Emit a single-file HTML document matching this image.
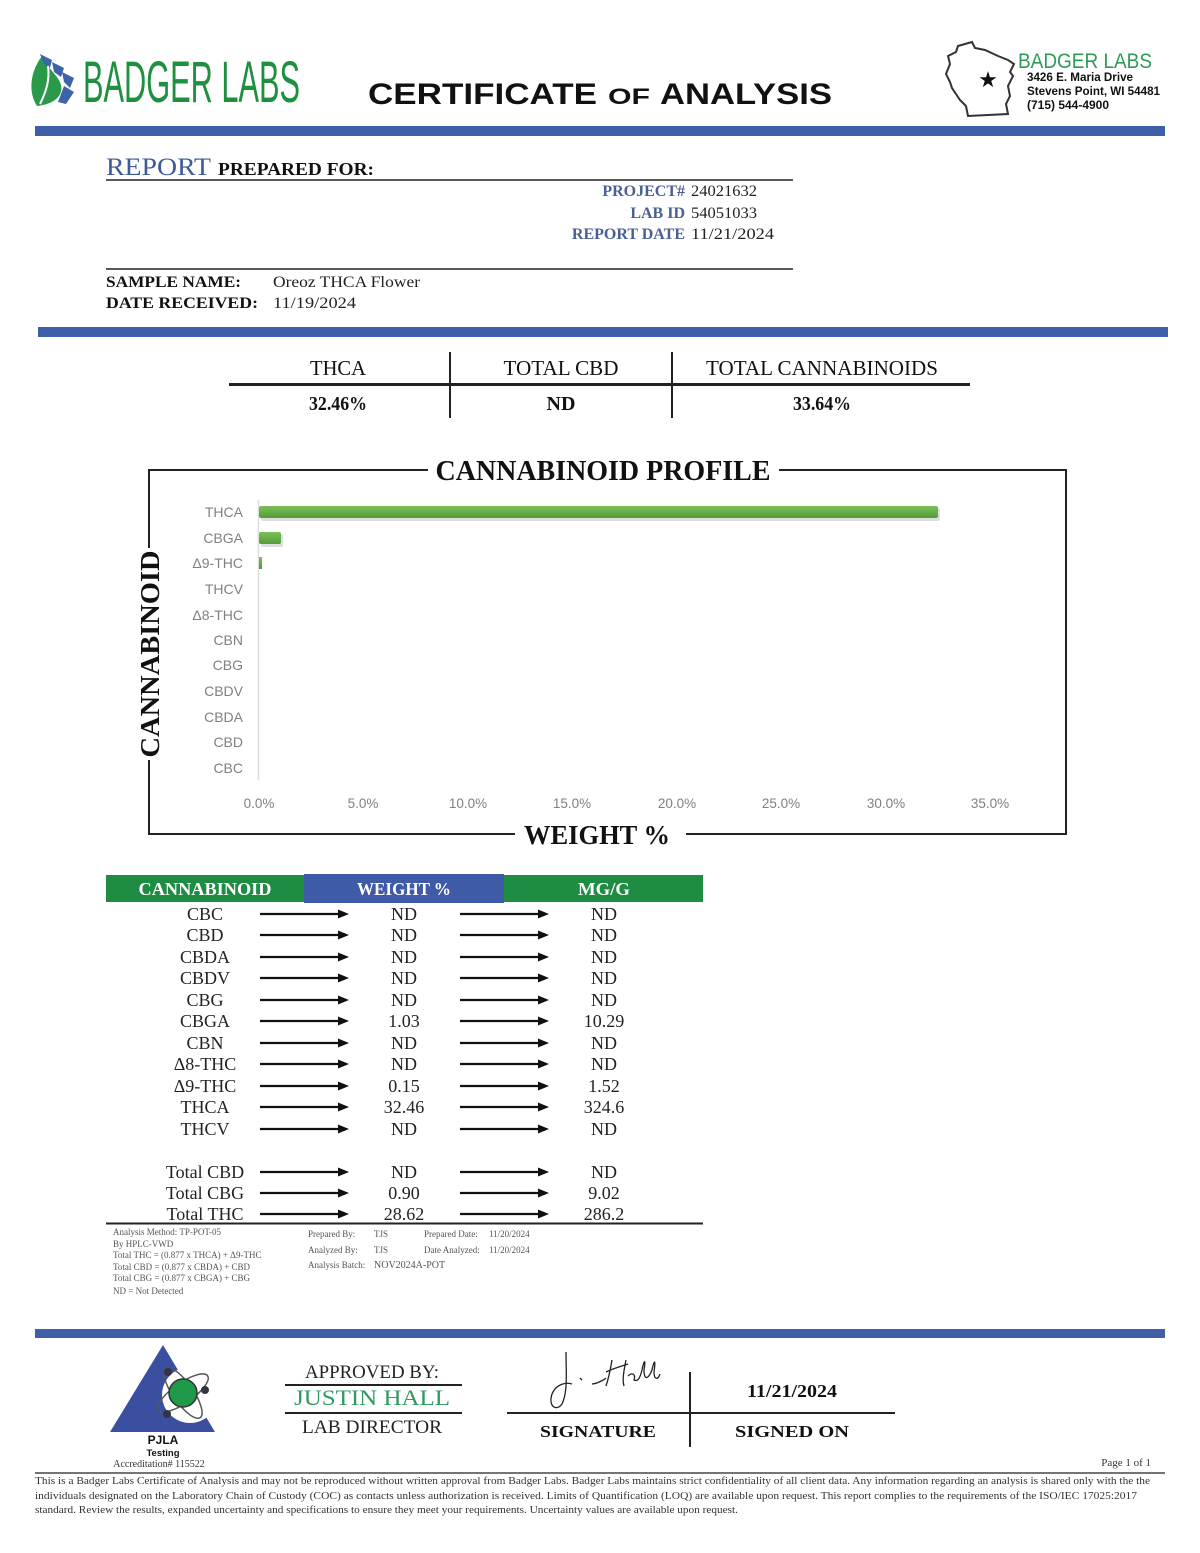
<!DOCTYPE html>
<html><head><meta charset="utf-8"><style>
html,body{margin:0;padding:0;background:#fff;}
svg{display:block;}
.s{font-family:"Liberation Serif",serif;}
.a{font-family:"Liberation Sans",sans-serif;}
</style></head><body>
<svg width="1200" height="1553" viewBox="0 0 1200 1553" xmlns="http://www.w3.org/2000/svg">
<rect width="1200" height="1553" fill="#fff"/>
<!-- Leaf logo -->
<path d="M37,106 C28,92 30,72 42,56 C46,66 56,74 60,82 C65,94 56,104 37,106 Z" fill="#2a9a4a"/>
<path d="M40,54 L52,60 L50,68 L44,64 Z" fill="#3e63a8"/>
<path d="M52,62 L64,68 L61,77 L54,72 Z" fill="#3e63a8"/>
<path d="M62,72 L74,78 L70,88 L64,82 Z" fill="#3e63a8"/>
<path d="M64,86 L74,92 L66,104 L58,102 Z" fill="#3e63a8"/>
<path d="M40,104 C46,92 50,80 48,66" stroke="#fff" stroke-width="2" fill="none"/>
<text x="83" y="102" class="a" font-size="58" fill="#1f9040" textLength="217" lengthAdjust="spacingAndGlyphs">BADGER LABS</text>
<text x="368" y="104" class="a" font-size="30" font-weight="bold" fill="#111" textLength="229" lengthAdjust="spacingAndGlyphs">CERTIFICATE</text>
<text x="608" y="104" class="a" font-size="22" font-weight="bold" fill="#111" textLength="42" lengthAdjust="spacingAndGlyphs">OF</text>
<text x="660" y="104" class="a" font-size="30" font-weight="bold" fill="#111" textLength="172" lengthAdjust="spacingAndGlyphs">ANALYSIS</text>
<!-- Wisconsin -->
<path d="M958,46 L972,42 L975,48 L985,50 L998,56 L1008,60 L1014,64 L1010,72 L1013,76 L1008,86 L1010,96 L1006,104 L1008,114 L968,116 L966,106 L960,100 L956,94 L952,88 L950,82 L946,74 L950,64 L948,56 L956,52 Z" fill="none" stroke="#333" stroke-width="2"/>
<text x="988" y="87" class="a" font-size="22" text-anchor="middle" fill="#111">★</text>
<text x="1018" y="68" class="a" font-size="21" fill="#2e9a55" textLength="134" lengthAdjust="spacingAndGlyphs">BADGER LABS</text>
<text x="1027" y="81" class="a" font-size="11.5" font-weight="bold" fill="#111" textLength="106" lengthAdjust="spacingAndGlyphs">3426 E. Maria Drive</text>
<text x="1027" y="95" class="a" font-size="11.5" font-weight="bold" fill="#111" textLength="133" lengthAdjust="spacingAndGlyphs">Stevens Point, WI 54481</text>
<text x="1027" y="109" class="a" font-size="11.5" font-weight="bold" fill="#111" textLength="82" lengthAdjust="spacingAndGlyphs">(715) 544-4900</text>
<rect x="35" y="126" width="1130" height="10" fill="#3f5fa8"/>

<!-- Report section -->
<text x="106" y="175" class="s" font-size="25" fill="#3f5a98" textLength="105" lengthAdjust="spacingAndGlyphs">REPORT</text>
<text x="218" y="175" class="s" font-size="18" font-weight="bold" fill="#111" textLength="156" lengthAdjust="spacingAndGlyphs">PREPARED FOR:</text>
<line x1="106" y1="180" x2="793" y2="180" stroke="#222" stroke-width="1.5"/>
<text x="685" y="196" class="s" font-size="16" font-weight="bold" fill="#4a5f95" text-anchor="end">PROJECT#</text>
<text x="691" y="196" class="s" font-size="16" fill="#222" textLength="66" lengthAdjust="spacingAndGlyphs">24021632</text>
<text x="685" y="218" class="s" font-size="16" font-weight="bold" fill="#4a5f95" text-anchor="end">LAB ID</text>
<text x="691" y="218" class="s" font-size="16" fill="#222" textLength="66" lengthAdjust="spacingAndGlyphs">54051033</text>
<text x="685" y="239" class="s" font-size="16" font-weight="bold" fill="#4a5f95" text-anchor="end">REPORT DATE</text>
<text x="691" y="239" class="s" font-size="16" fill="#222" textLength="83" lengthAdjust="spacingAndGlyphs">11/21/2024</text>
<line x1="106" y1="269" x2="793" y2="269" stroke="#222" stroke-width="1.5"/>
<text x="106" y="287" class="s" font-size="16" font-weight="bold" fill="#111" textLength="135" lengthAdjust="spacingAndGlyphs">SAMPLE NAME:</text>
<text x="273" y="287" class="s" font-size="16" fill="#222" textLength="147" lengthAdjust="spacingAndGlyphs">Oreoz THCA Flower</text>
<text x="106" y="308" class="s" font-size="16" font-weight="bold" fill="#111" textLength="152" lengthAdjust="spacingAndGlyphs">DATE RECEIVED:</text>
<text x="273" y="308" class="s" font-size="16" fill="#222" textLength="83" lengthAdjust="spacingAndGlyphs">11/19/2024</text>
<rect x="38" y="327" width="1130" height="10" fill="#3f5fa8"/>

<!-- Summary -->
<text x="338" y="375" class="s" font-size="21" fill="#111" text-anchor="middle" textLength="56" lengthAdjust="spacingAndGlyphs">THCA</text>
<text x="561" y="375" class="s" font-size="21" fill="#111" text-anchor="middle" textLength="115" lengthAdjust="spacingAndGlyphs">TOTAL CBD</text>
<text x="822" y="375" class="s" font-size="21" fill="#111" text-anchor="middle" textLength="232" lengthAdjust="spacingAndGlyphs">TOTAL CANNABINOIDS</text>
<line x1="229" y1="384.5" x2="970" y2="384.5" stroke="#222" stroke-width="3"/>
<line x1="450" y1="352" x2="450" y2="418" stroke="#222" stroke-width="2"/>
<line x1="672" y1="352" x2="672" y2="418" stroke="#222" stroke-width="2"/>
<text x="338" y="410" class="s" font-size="20" font-weight="bold" fill="#111" text-anchor="middle" textLength="58" lengthAdjust="spacingAndGlyphs">32.46%</text>
<text x="561" y="410" class="s" font-size="20" font-weight="bold" fill="#111" text-anchor="middle">ND</text>
<text x="822" y="410" class="s" font-size="20" font-weight="bold" fill="#111" text-anchor="middle" textLength="58" lengthAdjust="spacingAndGlyphs">33.64%</text>

<!-- Chart frame -->
<g stroke="#222" stroke-width="2" fill="none">
<polyline points="149,548 149,470 428,470"/>
<polyline points="779,470 1066,470 1066,834 686,834"/>
<polyline points="515,834 149,834 149,760"/>
</g>
<text x="603" y="480" class="s" font-size="28" font-weight="bold" fill="#111" text-anchor="middle" textLength="335" lengthAdjust="spacingAndGlyphs">CANNABINOID PROFILE</text>
<text x="597" y="844" class="s" font-size="27" font-weight="bold" fill="#111" text-anchor="middle" textLength="146" lengthAdjust="spacingAndGlyphs">WEIGHT %</text>
<text transform="translate(159,654) rotate(-90)" class="s" font-size="27" font-weight="bold" fill="#111" text-anchor="middle" textLength="207" lengthAdjust="spacingAndGlyphs">CANNABINOID</text>
<line x1="258.5" y1="500" x2="258.5" y2="780" stroke="#ddd" stroke-width="1.5"/>
<defs><linearGradient id="g" x1="0" y1="0" x2="0" y2="1"><stop offset="0" stop-color="#7bbf5a"/><stop offset="0.6" stop-color="#64aa44"/><stop offset="1" stop-color="#559a3a"/></linearGradient></defs>
<rect x="261" y="508" width="679" height="13" rx="2" fill="#c8c8c8" opacity="0.6"/>
<rect x="259" y="506" width="679" height="12" rx="2" fill="url(#g)"/>
<rect x="261" y="534" width="22" height="13" rx="2" fill="#c8c8c8" opacity="0.6"/>
<rect x="259" y="532" width="22" height="12" rx="2" fill="url(#g)"/>
<rect x="259" y="557" width="3" height="12" fill="url(#g)"/>
<g class="a" font-size="14" fill="#808080" text-anchor="end">
<text x="243" y="517">THCA</text>
<text x="243" y="543">CBGA</text>
<text x="243" y="568">Δ9-THC</text>
<text x="243" y="594">THCV</text>
<text x="243" y="620">Δ8-THC</text>
<text x="243" y="645">CBN</text>
<text x="243" y="670">CBG</text>
<text x="243" y="696">CBDV</text>
<text x="243" y="722">CBDA</text>
<text x="243" y="747">CBD</text>
<text x="243" y="773">CBC</text>
</g>
<g class="a" font-size="13.5" fill="#808080" text-anchor="middle">
<text x="259" y="808">0.0%</text>
<text x="363" y="808">5.0%</text>
<text x="468" y="808">10.0%</text>
<text x="572" y="808">15.0%</text>
<text x="677" y="808">20.0%</text>
<text x="781" y="808">25.0%</text>
<text x="886" y="808">30.0%</text>
<text x="990" y="808">35.0%</text>
</g>

<!-- Table -->
<rect x="106" y="875" width="198" height="27" fill="#1f8c43"/>
<rect x="304" y="874" width="200" height="29" fill="#3f5aa6"/>
<rect x="504" y="875" width="199" height="27" fill="#1f8c43"/>
<g class="s" font-size="18" font-weight="bold" fill="#fff" text-anchor="middle">
<text x="205" y="895" textLength="133" lengthAdjust="spacingAndGlyphs">CANNABINOID</text>
<text x="404" y="895" textLength="94" lengthAdjust="spacingAndGlyphs">WEIGHT %</text>
<text x="604" y="895" textLength="52" lengthAdjust="spacingAndGlyphs">MG/G</text>
</g>
<defs>
<g id="ar"><line x1="0" y1="0" x2="80" y2="0" stroke="#111" stroke-width="2.2"/><polygon points="78,-4.5 89,0 78,4.5" fill="#111"/></g>
</defs>
<g class="s" font-size="18" fill="#222" text-anchor="middle">
<text x="205" y="920">CBC</text><use href="#ar" x="260" y="914"/><text x="404" y="920">ND</text><use href="#ar" x="460" y="914"/><text x="604" y="920">ND</text>
<text x="205" y="941">CBD</text><use href="#ar" x="260" y="935"/><text x="404" y="941">ND</text><use href="#ar" x="460" y="935"/><text x="604" y="941">ND</text>
<text x="205" y="963">CBDA</text><use href="#ar" x="260" y="957"/><text x="404" y="963">ND</text><use href="#ar" x="460" y="957"/><text x="604" y="963">ND</text>
<text x="205" y="984">CBDV</text><use href="#ar" x="260" y="978"/><text x="404" y="984">ND</text><use href="#ar" x="460" y="978"/><text x="604" y="984">ND</text>
<text x="205" y="1006">CBG</text><use href="#ar" x="260" y="1000"/><text x="404" y="1006">ND</text><use href="#ar" x="460" y="1000"/><text x="604" y="1006">ND</text>
<text x="205" y="1027">CBGA</text><use href="#ar" x="260" y="1021"/><text x="404" y="1027">1.03</text><use href="#ar" x="460" y="1021"/><text x="604" y="1027">10.29</text>
<text x="205" y="1049">CBN</text><use href="#ar" x="260" y="1043"/><text x="404" y="1049">ND</text><use href="#ar" x="460" y="1043"/><text x="604" y="1049">ND</text>
<text x="205" y="1070">Δ8-THC</text><use href="#ar" x="260" y="1064"/><text x="404" y="1070">ND</text><use href="#ar" x="460" y="1064"/><text x="604" y="1070">ND</text>
<text x="205" y="1092">Δ9-THC</text><use href="#ar" x="260" y="1086"/><text x="404" y="1092">0.15</text><use href="#ar" x="460" y="1086"/><text x="604" y="1092">1.52</text>
<text x="205" y="1113">THCA</text><use href="#ar" x="260" y="1107"/><text x="404" y="1113">32.46</text><use href="#ar" x="460" y="1107"/><text x="604" y="1113">324.6</text>
<text x="205" y="1135">THCV</text><use href="#ar" x="260" y="1129"/><text x="404" y="1135">ND</text><use href="#ar" x="460" y="1129"/><text x="604" y="1135">ND</text>
<text x="205" y="1178">Total CBD</text><use href="#ar" x="260" y="1172"/><text x="404" y="1178">ND</text><use href="#ar" x="460" y="1172"/><text x="604" y="1178">ND</text>
<text x="205" y="1199">Total CBG</text><use href="#ar" x="260" y="1193"/><text x="404" y="1199">0.90</text><use href="#ar" x="460" y="1193"/><text x="604" y="1199">9.02</text>
<text x="205" y="1220">Total THC</text><use href="#ar" x="260" y="1214"/><text x="404" y="1220">28.62</text><use href="#ar" x="460" y="1214"/><text x="604" y="1220">286.2</text>
</g>
<line x1="106" y1="1223.5" x2="703" y2="1223.5" stroke="#222" stroke-width="2"/>
<g class="s" font-size="9" fill="#555">
<text x="113" y="1235">Analysis Method: TP-POT-05</text>
<text x="113" y="1247">By HPLC-VWD</text>
<text x="113" y="1258">Total THC = (0.877 x  THCA) + Δ9-THC</text>
<text x="113" y="1270">Total CBD = (0.877 x  CBDA) + CBD</text>
<text x="113" y="1281">Total CBG = (0.877 x  CBGA) + CBG</text>
<text x="113" y="1294">ND = Not Detected</text>
<text x="308" y="1237">Prepared By:</text><text x="374" y="1237">TJS</text><text x="424" y="1237">Prepared Date:</text><text x="489" y="1237">11/20/2024</text>
<text x="308" y="1253">Analyzed By:</text><text x="374" y="1253">TJS</text><text x="424" y="1253">Date Analyzed:</text><text x="489" y="1253">11/20/2024</text>
<text x="308" y="1268">Analysis Batch:</text><text x="374" y="1268" font-size="10">NOV2024A-POT</text>
</g>

<!-- Footer -->
<rect x="35" y="1329" width="1130" height="9" fill="#3f5fa8"/>
<polygon points="110,1432 163,1345 215,1432" fill="#3b4fa0"/>
<circle cx="190" cy="1395" r="28" fill="#fff"/>
<ellipse cx="183" cy="1393" rx="30" ry="10" fill="none" stroke="#555" stroke-width="1.5" transform="rotate(-35 183 1393)"/>
<ellipse cx="183" cy="1393" rx="30" ry="10" fill="none" stroke="#555" stroke-width="1.5" transform="rotate(55 183 1393)"/>
<circle cx="183" cy="1393" r="14" fill="#1f9a4a" stroke="#333" stroke-width="1.5"/>
<circle cx="168" cy="1372" r="4" fill="#334"/>
<circle cx="205" cy="1390" r="4" fill="#334"/>
<circle cx="167" cy="1414" r="4" fill="#334"/>
<text x="163" y="1444" class="a" font-size="12" font-weight="bold" fill="#111" text-anchor="middle">PJLA</text>
<text x="163" y="1456" class="a" font-size="9.5" font-weight="bold" fill="#111" text-anchor="middle">Testing</text>
<text x="159" y="1467" class="s" font-size="10" fill="#333" text-anchor="middle">Accreditation# 115522</text>
<text x="372" y="1378" class="s" font-size="19" fill="#222" text-anchor="middle" textLength="134" lengthAdjust="spacingAndGlyphs">APPROVED BY:</text>
<line x1="285" y1="1385" x2="462" y2="1385" stroke="#222" stroke-width="2"/>
<text x="372" y="1405" class="s" font-size="22" fill="#2e9a60" text-anchor="middle" textLength="156" lengthAdjust="spacingAndGlyphs">JUSTIN HALL</text>
<line x1="285" y1="1413" x2="462" y2="1413" stroke="#222" stroke-width="2"/>
<text x="372" y="1433" class="s" font-size="19" fill="#222" text-anchor="middle" textLength="140" lengthAdjust="spacingAndGlyphs">LAB DIRECTOR</text>
<!-- signature -->
<path d="M566,1352 C566,1370 568,1392 562,1404 C556,1412 548,1406 552,1394 C556,1384 566,1382 572,1384 M580,1378 L582,1380 M592,1384 C596,1384 604,1380 606,1378 M612,1360 C610,1372 608,1380 606,1386 M606,1372 C614,1368 622,1366 628,1364 M626,1360 C624,1370 622,1380 624,1386 M628,1376 C632,1372 636,1374 634,1380 C638,1382 640,1378 642,1370 C644,1360 646,1358 644,1370 C644,1380 648,1380 652,1370 C654,1360 656,1358 654,1372 C654,1380 658,1380 660,1374" fill="none" stroke="#222" stroke-width="1.3"/>
<line x1="507" y1="1413" x2="895" y2="1413" stroke="#222" stroke-width="2"/>
<line x1="690" y1="1372" x2="690" y2="1447" stroke="#222" stroke-width="2"/>
<text x="792" y="1397" class="s" font-size="18" font-weight="bold" fill="#111" text-anchor="middle" textLength="90" lengthAdjust="spacingAndGlyphs">11/21/2024</text>
<text x="598" y="1437" class="s" font-size="17" font-weight="bold" fill="#111" text-anchor="middle" textLength="116" lengthAdjust="spacingAndGlyphs">SIGNATURE</text>
<text x="792" y="1437" class="s" font-size="17" font-weight="bold" fill="#111" text-anchor="middle" textLength="114" lengthAdjust="spacingAndGlyphs">SIGNED ON</text>
<text x="1151" y="1466" class="s" font-size="11" fill="#333" text-anchor="end">Page 1 of 1</text>
<line x1="35" y1="1473" x2="1165" y2="1473" stroke="#222" stroke-width="1.2"/>
<g class="s" font-size="10.5" fill="#333">
<text x="35" y="1484" textLength="1115" lengthAdjust="spacingAndGlyphs">This is a Badger Labs Certificate of Analysis and may not be reproduced without written approval from Badger Labs. Badger Labs maintains strict confidentiality of all client data. Any information regarding an analysis is shared only with the the</text>
<text x="35" y="1499" textLength="1102" lengthAdjust="spacingAndGlyphs">individuals designated on the Laboratory Chain of Custody (COC) as contacts unless authorization is received. Limits of Quantification (LOQ) are available upon request. This report complies to the requirements of the ISO/IEC 17025:2017</text>
<text x="35" y="1513" textLength="703" lengthAdjust="spacingAndGlyphs">standard. Review the results, expanded uncertainty and specifications to ensure they meet your requirements. Uncertainty values are available upon request.</text>
</g>
</svg>
</body></html>
